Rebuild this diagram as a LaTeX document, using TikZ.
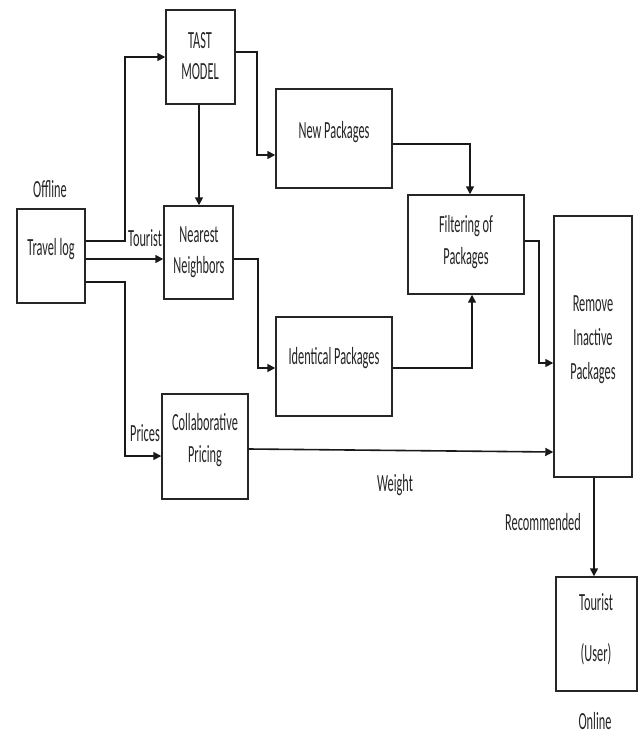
\documentclass[tikz,border=0pt]{standalone}
\usepackage{fontspec}
\setmainfont{Carlito}[FakeStretch=0.5]
\usetikzlibrary{arrows.meta,fit}
\begin{document}
\begin{tikzpicture}[x=0.75pt,y=-0.75pt,
  box/.style={draw=black!85, line width=1.1pt, inner sep=0pt},
  txt/.style={align=center, inner sep=0pt, text=black!85, font=\fontsize{18.5}{23.5}\selectfont},
  conn/.style={draw=black!90, line width=1.2pt, -{Triangle[length=6pt,width=6pt]}}]
\useasboundingbox (0,0) rectangle (640,738);
\fill[white] (0,0) rectangle (640,738);
% box corners
\coordinate (t1) at (17,209);  \coordinate (t2) at (85,303);
\coordinate (m1) at (166,10);  \coordinate (m2) at (235,104);
\coordinate (n1) at (164,206); \coordinate (n2) at (233,299);
\coordinate (p1) at (276,89);  \coordinate (p2) at (392,188);
\coordinate (i1) at (276,317); \coordinate (i2) at (392,416);
\coordinate (f1) at (408,195); \coordinate (f2) at (524,294);
\coordinate (r1) at (554,216); \coordinate (r2) at (632,477);
\coordinate (c1) at (162,394); \coordinate (c2) at (248,499);
\coordinate (u1) at (556,577); \coordinate (u2) at (637,691);
% boxes
\node[box, fit=(t1)(t2)] (travel) {};
\node[box, fit=(m1)(m2)] (tast) {};
\node[box, fit=(n1)(n2)] (near) {};
\node[box, fit=(p1)(p2)] (newp) {};
\node[box, fit=(i1)(i2)] (iden) {};
\node[box, fit=(f1)(f2)] (filt) {};
\node[box, fit=(r1)(r2)] (remove) {};
\node[box, fit=(c1)(c2)] (collab) {};
\node[box, fit=(u1)(u2)] (user) {};
% box texts
\node[txt] (ttravel) at (51,249) {Travel log};
\node[txt] (ttast) at (200,56) {TAST\\MODEL};
\node[txt] (tnear) at (199,252) {Nearest\\Neighbors};
\node[txt] (tnewp) at (334,132) {New Packages};
\node[txt] (tiden) at (334,358) {Identical Packages};
\node[txt] (tfilt) at (466,242) {Filtering of\\Packages};
\node[txt] (tremove) at (593,340) {Remove\\[2pt]Inactive\\[2pt]Packages};
\node[txt] (tcollab) at (205,440) {Collaborative\\Pricing};
\node[txt] (tuser) at (596,629) {Tourist\\[15pt](User)};
% labels
\node[txt] (loff) at (50,189) {Offline};
\node[txt] (ltour) at (145,238) {Tourist};
\node[txt] (lprice) at (145,433) {Prices};
\node[txt] (lweight) at (395,485) {Weight};
\node[txt] (lrec) at (543,522) {Recommended};
\node[txt] (lon) at (595,721) {Online};
% connectors
\draw[conn] (travel.east |- 0,241) -- (125,241) |- (tast.west);
\draw[conn] (travel.east |- 0,259) -- (near.west |- 0,259);
\draw[conn] (travel.east |- 0,282) -- (125,282) |- (collab.west |- 0,456);
\draw[conn] (tast.south -| 199,0) -- (near.north -| 199,0);
\draw[conn] (tast.east |- 0,52) -- (257,52) |- (newp.west |- 0,155);
\draw[conn] (near.east |- 0,259) -- (258,259) |- (iden.west |- 0,368);
\draw[conn] (newp.east |- 0,144) -| (filt.north -| 470,0);
\draw[conn] (iden.east |- 0,368) -| (filt.south -| 472,0);
\draw[conn] (filt.east |- 0,241) -- (539,241) |- (remove.west |- 0,363);
\draw[conn] (collab.east |- 0,449) -- (remove.west |- 0,452);
\draw[conn] (remove.south -| 594,0) -- (user.north -| 594,0);
\end{tikzpicture}
\end{document}
